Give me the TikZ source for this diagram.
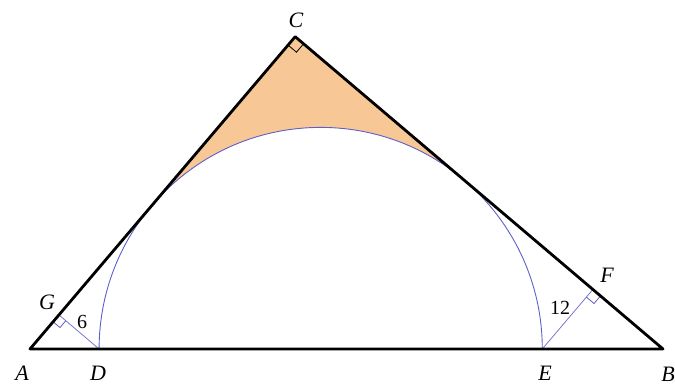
\documentclass[tikz,border=0pt]{standalone}
\usepackage{fontspec}
\setmainfont{Liberation Serif}
\usetikzlibrary{calc}
\definecolor{corner}{RGB}{247,200,150}
\definecolor{arcblue}{RGB}{95,95,200}
\tikzset{
  side/.style={line width=2.8pt, black, line join=round, line cap=round},
  circ/.style={line width=0.9pt, arcblue},
  perp/.style={line width=0.8pt, arcblue!85},
  lbl/.style={font=\fontsize{22}{26}\selectfont\itshape, inner sep=0pt},
  num/.style={font=\fontsize{20}{24}\selectfont, inner sep=0pt}
}
\begin{document}
\begin{tikzpicture}[x=1pt,y=1pt]
  \useasboundingbox (0,0) rectangle (675,388);
  \coordinate (A) at (30,39);
  \coordinate (B) at (663,39);
  \coordinate (C) at (295.2,351.3);
  \coordinate (O) at (320.7,39);
  \coordinate (D) at (99.1,39);
  \coordinate (E) at (542.3,39);
  \coordinate (G) at ($(A)!(D)!(C)$);
  \coordinate (F) at ($(B)!(E)!(C)$);
  \coordinate (T1) at ($(O)+(139.66:221.6pt)$);
  % shaded corner between C and the arc
  \fill[corner] (C) -- (T1) arc[start angle=139.66, end angle=49.66, radius=221.6pt] -- cycle;
  \draw[circ] (E) arc[start angle=0, end angle=180, radius=221.6pt];
  \draw[perp] (D) -- (G) (E) -- (F);
  \foreach \v/\p/\q/\s/\c in {G/A/D/9pt/arcblue, F/B/E/10pt/arcblue, C/A/B/11pt/black}{
    \coordinate (m1) at ($(\v)!\s!(\p)$);
    \coordinate (m2) at ($(\v)!\s!(\q)$);
    \draw[line width=0.8pt, \c] (m1) -- ($(m1)+(m2)-(\v)$) -- (m2);
  }
  \draw[side] (A) -- (B) -- (C) -- cycle;
  \node[lbl] (lA) at (22,15) {A};
  \node[lbl] (lB) at (668,14) {B};
  \node[lbl] (lC) at (296,368) {C};
  \node[lbl] (lD) at (98,15) {D};
  \node[lbl] (lE) at (545,15) {E};
  \node[lbl] (lF) at (607,113) {F};
  \node[lbl] (lG) at (47,86) {G};
  \node[num] (n6) at (82,66) {6};
  \node[num] (n12) at (560,80) {12};
\end{tikzpicture}
\end{document}
